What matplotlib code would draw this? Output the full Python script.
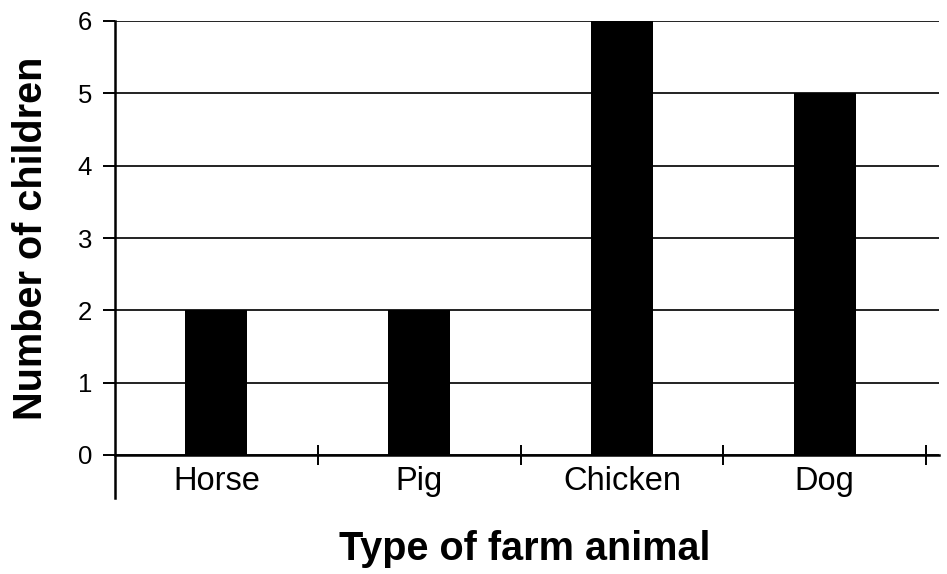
import matplotlib
matplotlib.use("Agg")
import matplotlib.pyplot as plt

# data
animals = ["Horse", "Pig", "Chicken", "Dog"]
children = [2, 2, 6, 5]
yticks = [0, 1, 2, 3, 4, 5, 6]

plt.rcParams['font.family'] = ['Liberation Sans', 'DejaVu Sans']

fig = plt.figure(figsize=(9.47, 5.74), dpi=100)
ax = fig.add_axes([115/947, 1 - 455/574, (939 - 115)/947, (455 - 21)/574])

pos = list(range(len(animals)))
ax.bar(pos, children, width=0.306, color="black", zorder=3)

ax.set_xlim(-0.5, 3.564)
ax.set_ylim(0, 6)

# grid lines at each integer
ax.set_yticks(yticks)
ax.yaxis.grid(True, color="#222222", linewidth=1.4, zorder=1)
ax.tick_params(axis="y", direction="out", length=8.6, width=1.4, labelsize=18.5, pad=8)

# category boundaries as major ticks, names on minor ticks
ax.set_xticks([b + 0.5 for b in pos])
ax.set_xticklabels([])
ax.set_xticks(pos, minor=True)
ax.set_xticklabels(animals, minor=True)
ax.tick_params(axis="x", which="major", direction="inout", length=14.4, width=1.4)
ax.tick_params(axis="x", which="minor", length=0, labelsize=23.5, pad=8)

for s in ["top", "right"]:
    ax.spines[s].set_visible(False)
ax.spines["left"].set_linewidth(1.8)
ax.spines["bottom"].set_linewidth(1.8)
ax.spines["left"].set_bounds(-0.6, 6)

ax.set_ylabel("Number of children", fontsize=28.5, fontweight="bold")
ax.yaxis.set_label_coords(-0.079, 0.5)
ax.set_xlabel("Type of farm animal", fontsize=28.5, fontweight="bold")
ax.xaxis.set_label_coords(0.4976, -0.172)

fig.savefig("out.png", dpi=100)
